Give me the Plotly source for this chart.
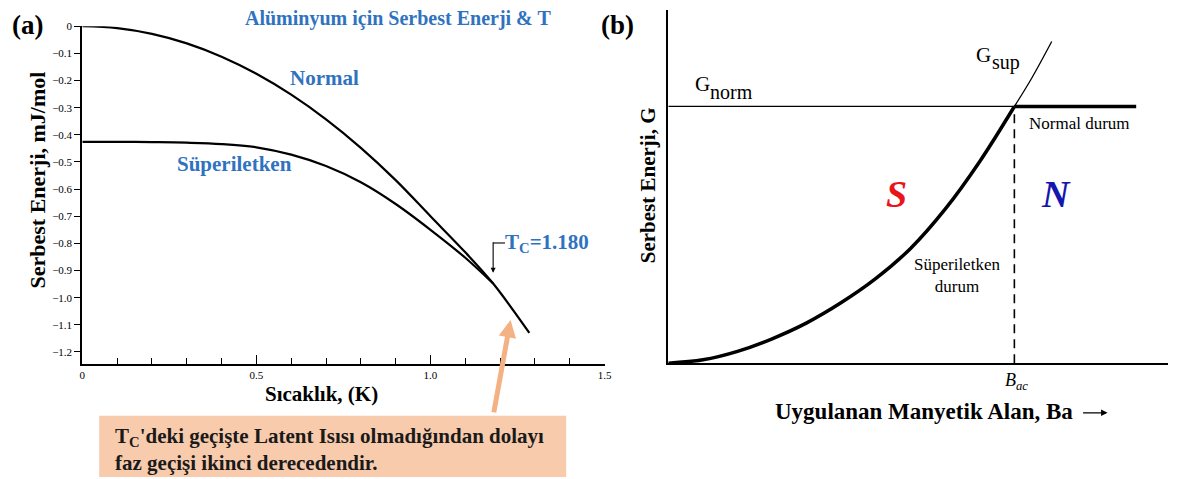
import plotly.graph_objects as go

# ---------------- Panel (a): free energy of aluminium vs temperature ----------------
temp_normal = [0.0, 0.1, 0.2, 0.3, 0.4, 0.5, 0.6, 0.7, 0.8, 0.9, 1.0, 1.1, 1.18, 1.284]
g_normal = [0.0, -0.007, -0.028, -0.063, -0.112, -0.175, -0.252, -0.343, -0.448, -0.567, -0.700, -0.833, -0.948, -1.13]

temp_super = [0.0, 0.1, 0.2, 0.3, 0.4, 0.5, 0.6, 0.7, 0.8, 0.9, 1.0, 1.1, 1.18]
g_super = [-0.426, -0.426, -0.427, -0.429, -0.434, -0.446, -0.473, -0.515, -0.575, -0.655, -0.750, -0.853, -0.948]

tc = 1.180
g_at_tc = -0.948

y_ticks = [0, -0.1, -0.2, -0.3, -0.4, -0.5, -0.6, -0.7, -0.8, -0.9, -1.0, -1.1, -1.2]
y_tick_text = ["0", "\u22120.1", "\u22120.2", "\u22120.3", "\u22120.4", "\u22120.5", "\u22120.6",
               "\u22120.7", "\u22120.8", "\u22120.9", "\u22121.0", "\u22121.1", "\u22121.2"]
x_ticks = [0, 0.5, 1.0, 1.5]
x_tick_text = ["0", "0.5", "1.0", "1.5"]

# ---------------- Panel (b): free energy vs applied field ----------------
b_sc = [0.0, 0.1, 0.2, 0.3, 0.4, 0.5, 0.6, 0.7, 0.8, 0.9, 1.0]
g_sc = [0.0, 0.013, 0.046, 0.095, 0.157, 0.236, 0.330, 0.447, 0.600, 0.786, 1.0]
b_sup_ext = [1.0, 1.05, 1.108]
g_sup_ext = [1.0, 1.11, 1.253]
g_norm_level = 1.0
b_ac = 1.0
b_end = 1.352

SERIF = "Liberation Serif"
BLUE = "#2F73C0"

fig = go.Figure()


def curve(x, y, xa, ya, width, dash=None, shape="spline"):
    fig.add_trace(go.Scatter(x=x, y=y, mode="lines",
                             line=dict(color="black", width=width, shape=shape, dash=dash, smoothing=1.0),
                             xaxis=xa, yaxis=ya, cliponaxis=False, showlegend=False, hoverinfo="skip"))


# panel (a) curves
curve(temp_normal, g_normal, "x", "y", 2.2)
curve(temp_super, g_super, "x", "y", 2.2)

# panel (b) curves
curve([0, b_ac], [g_norm_level, g_norm_level], "x2", "y2", 1.3, shape="linear")
curve([b_ac, b_end], [g_norm_level, g_norm_level], "x2", "y2", 3.5, shape="linear")
curve(b_sc, g_sc, "x2", "y2", 3.5)
curve(b_sup_ext, g_sup_ext, "x2", "y2", 1.3)
curve([b_ac, b_ac], [0, g_norm_level], "x2", "y2", 1.6, dash="9px,6px", shape="linear")

axis_common = dict(showgrid=False, zeroline=False, showline=True, linecolor="black", linewidth=2, mirror=False)

fig.update_layout(
    width=1177, height=479,
    margin=dict(l=0, r=0, t=0, b=0),
    paper_bgcolor="white", plot_bgcolor="white",
    xaxis=dict(domain=[80 / 1177, 606.7 / 1177], range=[0, 1.5], anchor="y",
               tickvals=x_ticks, ticktext=x_tick_text, ticks="inside", ticklen=9, tickwidth=1.3, tickcolor="black",
               minor=dict(dtick=0.1, tick0=0, ticks="inside", ticklen=6, tickwidth=1.3, tickcolor="black"),
               tickfont=dict(family=SERIF, size=11, color="black"), **axis_common),
    yaxis=dict(domain=[1 - 362.7 / 479, 1 - 20.5 / 479], range=[-1.245, 0], anchor="x",
               tickvals=y_ticks, ticktext=y_tick_text, ticks="outside", ticklen=6, tickwidth=1.3, tickcolor="black",
               tickfont=dict(family=SERIF, size=11, color="black"), **axis_common),
    xaxis2=dict(domain=[671 / 1177, 1175 / 1177], range=[0, 1.444], anchor="y2", showticklabels=False, ticks="",
                **axis_common),
    yaxis2=dict(domain=[1 - 361.7 / 479, 1 - 4 / 479], range=[0, 1.376], anchor="x2", showticklabels=False, ticks="",
                **axis_common),
)

ann = []


def ptext(text, x, y, size, color="black", bold=False, italic=False, angle=0, xanchor="center", align="center"):
    if bold:
        text = "<b>" + text + "</b>"
    if italic:
        text = "<i>" + text + "</i>"
    ann.append(dict(text=text, x=x / 1177, y=1 - y / 479, xref="paper", yref="paper", showarrow=False,
                    xanchor=xanchor, yanchor="middle", textangle=angle, align=align,
                    font=dict(family=SERIF, size=size, color=color)))


# panel (a) labels
ptext("(a)", 25, 19, 27, bold=True)
ptext("Alüminyum için Serbest Enerji &amp; T", 398, 13, 20, color=BLUE, bold=True)
ptext("Normal", 324, 73, 21, color=BLUE, bold=True)
ptext("Süperiletken", 233, 160, 21, color=BLUE, bold=True)
ptext("Serbest Enerji, mJ/mol", 35, 176, 22, bold=True, angle=-90)
ptext("Sıcaklık, (K)", 321, 393, 21, bold=True)
ptext("T<sub>C</sub>=1.180", 549, 240, 21, color=BLUE, bold=True)

# panel (b) labels
ptext("(b)", 620, 19, 27, bold=True)
ptext("Serbest Enerji, G", 650, 181, 21, bold=True, angle=-90)
ptext("Uygulanan Manyetik Alan, Ba", 929, 411, 23, bold=True)
ptext("G", 705, 79, 21, xanchor="center")
ptext("norm", 711, 87, 20, xanchor="left")
ptext("G", 989, 50, 21, xanchor="center")
ptext("sup", 995, 57, 20, xanchor="left")
ptext("Normal durum", 1086, 119, 17)
ptext("Süperiletken<br>durum", 962, 273, 17)
ptext("S", 901, 190, 38, color="#E8151B", bold=True, italic=True)
ptext("N", 1062, 190, 38, color="#1515B0", bold=True, italic=True)
ptext("B<sub>ac</sub>", 1022, 380, 18, italic=True)

# explanatory box text
ptext("T<sub>C</sub>'deki geçişte Latent Isısı olmadığından dolayı<br>faz geçişi ikinci derecedendir.",
      111, 449, 21, color="#1a1a1a", bold=True, xanchor="left", align="left")

# Tc pointer: short leader then arrow down to the curves
ann.append(dict(x=tc, y=g_at_tc + 0.04, xref="x", yref="y", ax=0, ay=-32, axref="pixel", ayref="pixel",
                showarrow=True, arrowhead=2, arrowsize=0.9, arrowwidth=1.1, arrowcolor="black", text=""))
# orange pointer from the box to the curve
ann.append(dict(x=1.23, y=-1.082, xref="x", yref="y", ax=-17, ay=94, axref="pixel", ayref="pixel",
                showarrow=True, arrowhead=2, arrowsize=0.7, arrowwidth=5, arrowcolor="#F4B183", text=""))
# arrow after the field axis title
ann.append(dict(x=1114 / 1177, y=1 - 412 / 479, xref="paper", yref="paper", ax=-26, ay=0,
                axref="pixel", ayref="pixel", showarrow=True, arrowhead=2, arrowsize=1.0, arrowwidth=1.3,
                arrowcolor="black", text=""))

fig.update_layout(annotations=ann)

# box and leader segment
tc_px = 80 + tc * (526.7 / 1.5)
fig.update_layout(shapes=[
    dict(type="rect", xref="paper", yref="paper", x0=97 / 1177, x1=568 / 1177, y0=1 - 477 / 479, y1=1 - 415 / 479,
         fillcolor="#F8CBAD", line=dict(width=0), layer="below"),
    dict(type="line", xref="paper", yref="paper", x0=tc_px / 1177, x1=(tc_px + 12) / 1177,
         y0=1 - 240 / 479, y1=1 - 240 / 479, line=dict(color="black", width=1.1)),
])

fig.write_html("out.html")
